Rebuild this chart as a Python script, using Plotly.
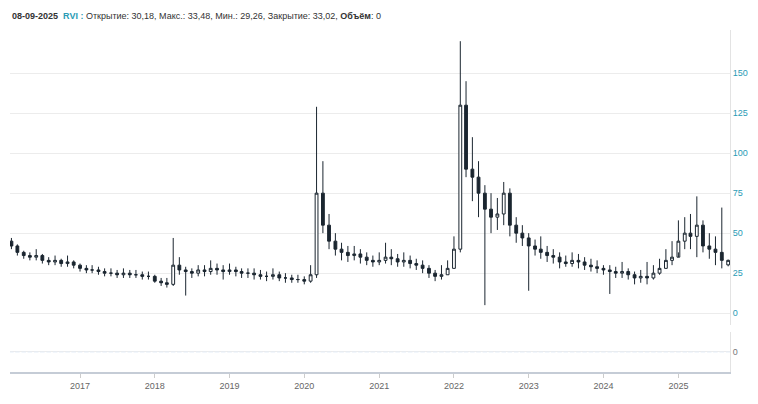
import plotly.graph_objects as go
import pandas as pd

months = pd.date_range("2016-01-01", "2025-09-01", freq="MS")

close = [45, 42, 38, 36, 35, 36, 33, 32, 33, 31, 32, 30,
         28, 27, 27, 26, 25, 25, 24, 25, 24, 24, 23, 23,
         20, 19, 18, 30, 27, 26, 25, 27, 26, 28, 27, 26,
         27, 26, 25, 25, 24, 23, 23, 24, 22, 22, 21, 21,
         20, 24, 75, 55, 45, 40, 38, 36, 37, 35, 33, 32,
         33, 35, 34, 32, 33, 31, 30, 28, 25, 23, 24, 28,
         40, 130, 90, 85, 75, 65, 60, 62, 75, 55, 50, 47,
         42, 40, 38, 36, 35, 32, 31, 33, 32, 30, 29, 28,
         27, 26, 25, 26, 24, 22, 23, 22, 25, 28, 33, 35,
         45, 50, 48, 55, 42, 40, 38, 33, 33.02]
high = [50, 47, 43, 39, 38, 40, 37, 35, 36, 34, 36, 33,
        31, 30, 30, 29, 28, 28, 27, 28, 27, 27, 26, 26,
        24, 22, 22, 47, 35, 29, 28, 30, 30, 33, 31, 30,
        31, 29, 28, 28, 28, 27, 26, 28, 26, 25, 24, 24,
        23, 30, 129, 95, 62, 50, 44, 42, 42, 40, 38, 36,
        38, 44, 40, 37, 38, 36, 34, 33, 30, 27, 30, 33,
        48, 170, 145, 110, 95, 80, 75, 72, 82, 78, 60, 55,
        50, 46, 48, 42, 40, 38, 36, 38, 37, 35, 34, 33,
        30, 30, 29, 32, 28, 26, 27, 32, 30, 34, 40, 45,
        58, 60, 62, 73, 58, 50, 48, 66, 33.48]
low = [42, 40, 36, 34, 33, 33, 31, 30, 30, 29, 29, 28,
       26, 25, 25, 24, 23, 23, 22, 22, 22, 22, 21, 21,
       19, 17, 16, 17, 24, 11, 22, 23, 23, 24, 24, 21,
       24, 23, 22, 22, 21, 21, 20, 21, 20, 19, 19, 19,
       18, 19, 22, 50, 40, 36, 33, 32, 33, 31, 30, 29,
       30, 31, 30, 29, 29, 28, 27, 25, 22, 20, 21, 24,
       28, 38, 85, 70, 60, 5, 50, 52, 55, 48, 44, 42,
       14, 36, 34, 32, 31, 28, 29, 29, 28, 27, 26, 25,
       24, 12, 22, 22, 21, 18, 19, 18, 21, 24, 28, 30,
       38, 40, 40, 35, 38, 34, 30, 28, 29.26]
open_ = [48] + close[:-2] + [30.18]
volume = [0] * len(months)

fig = go.Figure()
fig.add_trace(go.Candlestick(
    x=months, open=open_, high=high, low=low, close=close,
    increasing=dict(line=dict(color="#1b2630", width=1), fillcolor="white"),
    decreasing=dict(line=dict(color="#1b2630", width=1), fillcolor="#1b2630"),
    whiskerwidth=0, yaxis="y", showlegend=False))
fig.add_trace(go.Bar(x=months, y=volume, yaxis="y2", marker_color="#1b2630", showlegend=False))

fig.update_layout(
    width=742, height=388,
    margin=dict(l=2, r=13, t=22, b=24),
    plot_bgcolor="white", paper_bgcolor="white",
    font=dict(family="Liberation Sans, Arial", size=9, color="#555"),
    xaxis=dict(range=["2016-01-25", "2025-09-10"], rangeslider=dict(visible=False),
               anchor="y2", showgrid=False, showline=True, linecolor="#c5ccd6", linewidth=2,
               ticks="outside", ticklen=4, tickcolor="#ccc", dtick="M12",
               tickformat="%Y", tickfont=dict(color="#666")),
    yaxis=dict(domain=[0.137, 1], side="right", range=[-7.5, 177],
               tickvals=[0, 25, 50, 75, 100, 125, 150], showgrid=True,
               gridcolor="#ececec", zeroline=False, tickfont=dict(color="#2a9bb5"),
               showline=True, linecolor="#e3e3e3"),
    yaxis2=dict(domain=[0, 0.117], side="right", range=[-1, 1],
                tickvals=[0], showgrid=True, gridcolor="#ececec", zeroline=False,
                showline=True, linecolor="#e3e3e3", tickfont=dict(color="#777")),
)

fig.add_annotation(
    xref="paper", yref="paper", x=0, y=1.06, xanchor="left", showarrow=False,
    text="<b>08-09-2025</b>  <b><span style='color:#2a9bb5'>RVI :</span></b> Открытие: 30,18, Макс.: 33,48, Мин.: 29,26, Закрытие: 33,02, <b>Объём</b>: 0",
    font=dict(size=9, color="#333"))

fig.write_html("out.html")
